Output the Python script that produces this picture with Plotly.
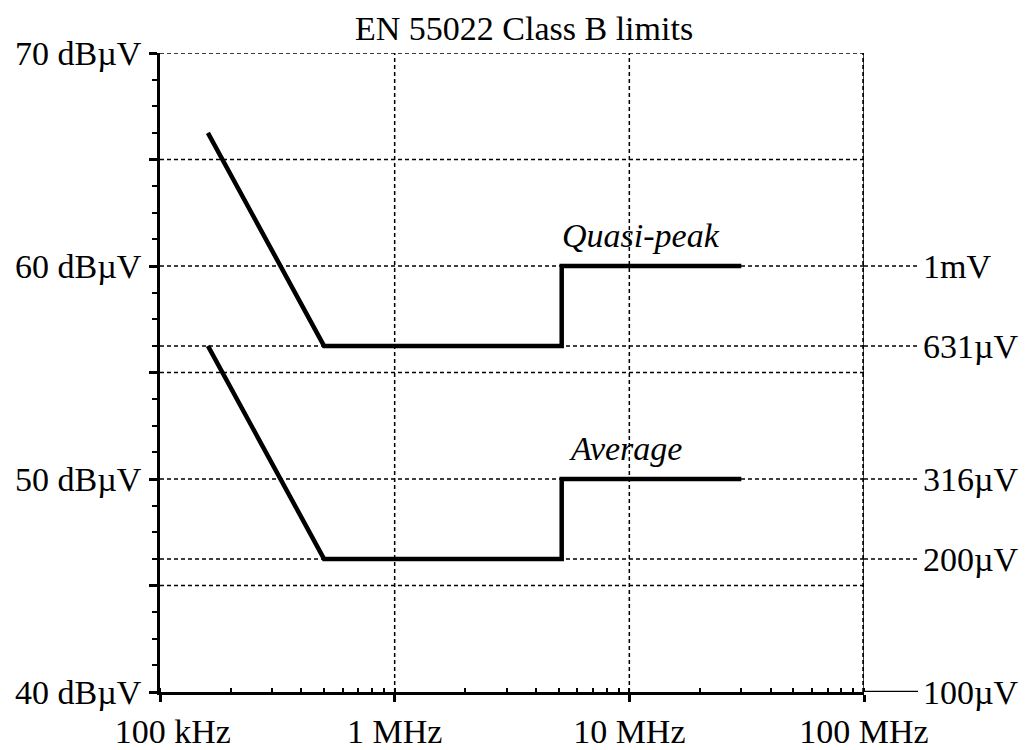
import plotly.graph_objects as go

# ---- data ----
qp_freq_hz = [0.16e6, 0.5e6, 5.15e6, 5.15e6, 30e6]
qp_level_db = [66.25, 56.25, 56.25, 60.0, 60.0]
avg_freq_hz = [0.16e6, 0.5e6, 5.15e6, 5.15e6, 30e6]
avg_level_db = [56.25, 46.25, 46.25, 50.0, 50.0]

x_tick_vals = [1e5, 1e6, 1e7, 1e8]
x_tick_text = ["\u00a0\u00a0\u00a0100 kHz", "1 MHz", "10 MHz", "100 MHz"]
y_tick_vals = [40, 45, 50, 55, 60, 65, 70]
y_tick_text = ["40 dBµV", "", "50 dBµV", "", "60 dBµV", "", "70 dBµV"]
right_vals = [60, 56.25, 50, 46.25, 40]
right_text = ["1mV", "631µV", "316µV", "200µV", "100µV"]
grid_y = [45, 46.25, 50, 55, 56.25, 60, 65, 70]
grid_x = [1e6, 1e7]

FONT = "Liberation Serif, Times New Roman, serif"
FS = 34
DOT = "4px,3px"

fig = go.Figure()
fig.add_trace(go.Scatter(x=qp_freq_hz, y=qp_level_db, mode="lines",
                         line=dict(color="black", width=4.5), hoverinfo="skip", showlegend=False))
fig.add_trace(go.Scatter(x=avg_freq_hz, y=avg_level_db, mode="lines",
                         line=dict(color="black", width=4.5), hoverinfo="skip", showlegend=False))
fig.add_trace(go.Scatter(x=[1e8] * len(right_vals), y=right_vals, mode="markers", yaxis="y2",
                         marker=dict(opacity=0), hoverinfo="skip", showlegend=False))

shapes = []
for gy in grid_y:
    shapes.append(dict(type="line", xref="paper", yref="y", x0=0, x1=1, y0=gy, y1=gy,
                       line=dict(color="black", width=1.5, dash=DOT), layer="below"))
for gx in grid_x:
    shapes.append(dict(type="line", xref="x", yref="paper", x0=gx, x1=gx, y0=0, y1=1,
                       line=dict(color="black", width=1.5, dash=DOT), layer="below"))
# right edge at 100 MHz
shapes.append(dict(type="line", xref="x", yref="paper", x0=1e8, x1=1e8, y0=0, y1=1,
                   line=dict(color="black", width=1.5), layer="below"))
shapes.append(dict(type="line", xref="x", yref="paper", x0=1e8, x1=1e8, y0=0, y1=1,
                   line=dict(color="black", width=3.5, dash=DOT), layer="below"))
# right-side extensions to labels
ext = 1.0767
for rv in right_vals:
    if rv == 40:
        shapes.append(dict(type="line", xref="paper", yref="y", x0=1, x1=ext, y0=rv, y1=rv,
                           line=dict(color="black", width=2.5)))
    else:
        shapes.append(dict(type="line", xref="paper", yref="y", x0=1, x1=ext, y0=rv, y1=rv,
                           line=dict(color="black", width=1.5, dash=DOT)))

annotations = [
    dict(text="EN 55022 Class B limits", xref="paper", yref="paper", x=0.517, y=1.038,
         xanchor="center", yanchor="middle", showarrow=False,
         font=dict(family=FONT, size=FS, color="black")),
    dict(text="<i>Quasi-peak</i>", xref="x", yref="y", x=7.051, y=61.44,
         xanchor="center", yanchor="middle", showarrow=False,
         font=dict(family=FONT, size=FS, color="black")),
    dict(text="<i>Average</i>", xref="x", yref="y", x=6.983, y=51.44,
         xanchor="center", yanchor="middle", showarrow=False,
         font=dict(family=FONT, size=FS, color="black")),
]

fig.update_layout(
    width=1019, height=742,
    margin=dict(l=152, r=163, t=45, b=58, autoexpand=False),
    paper_bgcolor="white", plot_bgcolor="white",
    font=dict(family=FONT, size=FS, color="black"),
    shapes=shapes, annotations=annotations,
    xaxis=dict(type="log", range=[5, 8], tickmode="array", tickvals=x_tick_vals, ticktext=x_tick_text,
               ticks="outside", ticklen=7, tickwidth=2.5, tickcolor="black", automargin=False,
               showline=True, linewidth=2.8, linecolor="black", showgrid=False, zeroline=False,
               ticklabelstandoff=0,
               minor=dict(dtick="D1", ticks="inside", ticklen=4, tickwidth=1.5, tickcolor="black",
                          showgrid=False)),
    yaxis=dict(range=[40, 70], tickmode="array", tickvals=y_tick_vals, ticktext=y_tick_text,
               ticks="outside", ticklen=8, tickwidth=2.5, tickcolor="black", automargin=False,
               showline=True, linewidth=2.8, linecolor="black", showgrid=False, zeroline=False,
               ticklabelstandoff=1,
               minor=dict(tick0=40, dtick=1.25, ticks="outside", ticklen=5, tickwidth=1.5,
                          tickcolor="black", showgrid=False)),
    yaxis2=dict(range=[40, 70], overlaying="y", side="right", tickmode="array", automargin=False,
                tickvals=right_vals, ticktext=right_text, ticks="", showline=False,
                showgrid=False, zeroline=False, ticklabelstandoff=58),
)

fig.write_html("out.html")
